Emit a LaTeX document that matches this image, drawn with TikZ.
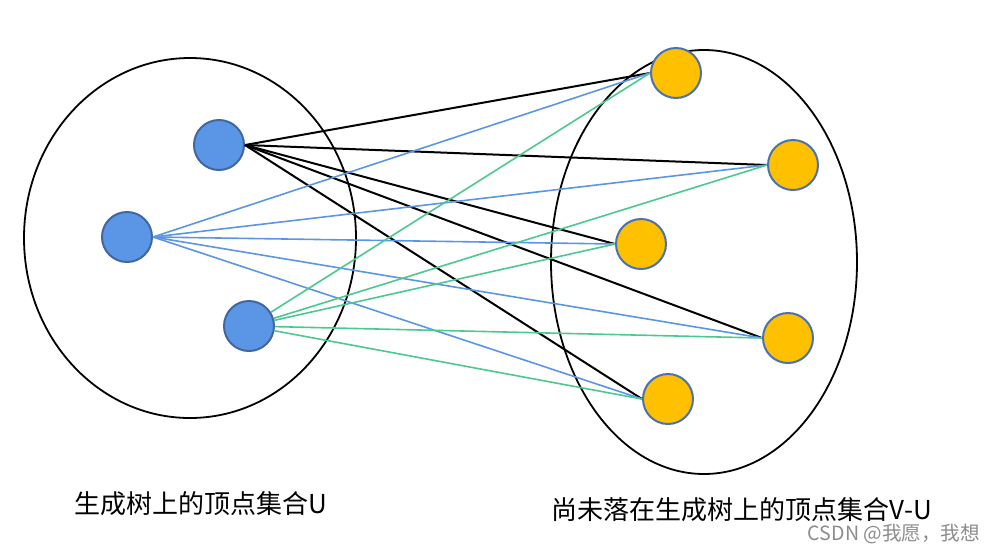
\documentclass[tikz,border=0pt]{standalone}
\usepackage{fontspec}
\setmainfont{Noto Sans CJK SC}
\usetikzlibrary{positioning,calc}

\definecolor{dotblue}{HTML}{5B95E6}
\definecolor{dotedge}{HTML}{41679F}
\definecolor{dotgold}{HTML}{FFC000}
\definecolor{goldedge}{HTML}{4A72B0}
\definecolor{lineblue}{HTML}{5B95E6}
\definecolor{linegreen}{HTML}{4CC98F}

\tikzset{
  uvert/.style={circle,fill=dotblue,draw=dotedge,line width=1pt,minimum size=25pt,inner sep=0pt},
  vvert/.style={circle,fill=dotgold,draw=goldedge,line width=1pt,minimum size=25pt,inner sep=0pt},
  setring/.style={draw=black,line width=0.9pt},
  blackedge/.style={draw=black,line width=1pt},
  blueedge/.style={draw=lineblue,line width=0.8pt},
  greenedge/.style={draw=linegreen,line width=0.8pt}
}

\begin{document}
\begin{tikzpicture}[x=0.5pt,y=-0.5pt]
\useasboundingbox (0,0) rectangle (996,553);

% the two vertex sets
\draw[setring] (190,238) ellipse [x radius=166,y radius=180];
\draw[setring] (704,262) ellipse [x radius=153,y radius=212];

% vertices in U
\node[uvert] (U1) at (219,145) {};
\node[uvert] (U2) at (127,237) {};
\node[uvert] (U3) at (249,326) {};

% vertices in V-U
\node[vvert] (V1) at (676,73) {};
\node[vvert] (V2) at (793,165) {};
\node[vvert] (V3) at (641,244) {};
\node[vvert] (V4) at (788,338) {};
\node[vvert] (V5) at (668,399) {};

% edges from the first vertex
\draw[blackedge] (U1.east) -- (V1.west);
\draw[blackedge] (U1.east) -- (V2.west);
\draw[blackedge] (U1.east) -- (V3.west);
\draw[blackedge] (U1.east) -- (V4.west);
\draw[blackedge] (U1.east) -- (V5.west);

% edges from the second vertex
\draw[blueedge] (U2.east) -- (V1.west);
\draw[blueedge] (U2.east) -- (V2.west);
\draw[blueedge] (U2.east) -- (V3.west);
\draw[blueedge] (U2.east) -- (V4.west);
\draw[blueedge] (U2.east) -- (V5.west);

% edges from the third vertex
\draw[greenedge] (U3) -- (V1.west);
\draw[greenedge] (U3) -- (V2.west);
\draw[greenedge] (U3) -- (V3.west);
\draw[greenedge] (U3) -- (V4.west);
\draw[greenedge] (U3) -- (V5.west);

% captions
\node[font=\fontsize{13pt}{15pt}\selectfont] (capU) at (201,504) {生成树上的顶点集合U};
\node[font=\fontsize{13pt}{15pt}\selectfont] (capVU) at (742,510) {尚未落在生成树上的顶点集合V-U};
\node[font=\fontsize{9.8pt}{11pt}\selectfont,text=black!45] (mark) at (894,534) {CSDN @我愿，我想};

\end{tikzpicture}
\end{document}
